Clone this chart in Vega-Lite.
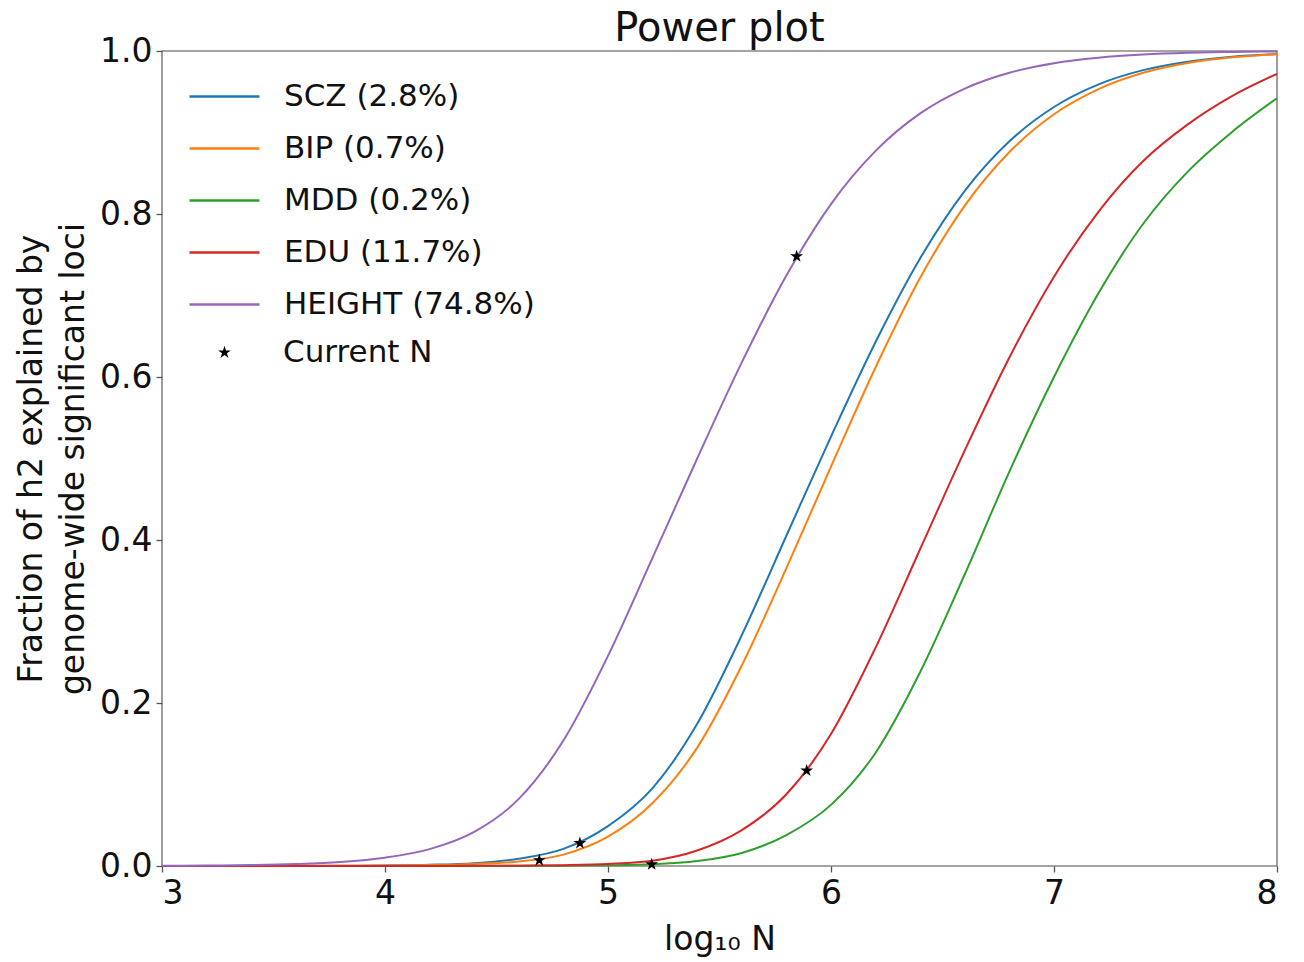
{
  "$schema": "https://vega.github.io/schema/vega-lite/v6.json",
  "width": 1115,
  "height": 815,
  "autosize": {"type": "none"},
  "padding": {"left": 162, "top": 51, "right": 27, "bottom": 96},
  "background": "white",
  "title": {"text": "Power plot", "fontSize": 40, "font": "DejaVu Sans", "fontWeight": "normal", "color": "#111111", "baseline": "bottom", "offset": -13, "dy": 41},
  "config": {
    "view": {"stroke": "#8a8582", "strokeWidth": 1.6},
    "font": "DejaVu Sans",
    "axis": {
      "grid": false, "domain": false, "tickColor": "#555555", "tickSize": 6, "tickWidth": 1.3,
      "labelFontSize": 33, "labelColor": "#111111", "labelFont": "DejaVu Sans",
      "titleFontSize": 33, "titleFontWeight": "normal", "titleColor": "#111111", "titleFont": "DejaVu Sans"
    },
    "legend": {"labelFont": "DejaVu Sans", "labelFontSize": 31, "labelColor": "#111111", "padding": 0, "labelLimit": 0}
  },
  "datasets": {
    "curves": [
      {"label": "SCZ (2.8%)", "logN": 3.0, "frac": 0},
      {"label": "SCZ (2.8%)", "logN": 3.4, "frac": 0.0001},
      {"label": "SCZ (2.8%)", "logN": 3.8, "frac": 0.0003},
      {"label": "SCZ (2.8%)", "logN": 4.0, "frac": 0.0007},
      {"label": "SCZ (2.8%)", "logN": 4.2, "frac": 0.0015},
      {"label": "SCZ (2.8%)", "logN": 4.4, "frac": 0.0035},
      {"label": "SCZ (2.8%)", "logN": 4.6, "frac": 0.009},
      {"label": "SCZ (2.8%)", "logN": 4.8, "frac": 0.021},
      {"label": "SCZ (2.8%)", "logN": 5.0, "frac": 0.049},
      {"label": "SCZ (2.8%)", "logN": 5.2, "frac": 0.0956},
      {"label": "SCZ (2.8%)", "logN": 5.4, "frac": 0.1744},
      {"label": "SCZ (2.8%)", "logN": 5.6, "frac": 0.2832},
      {"label": "SCZ (2.8%)", "logN": 5.8, "frac": 0.4052},
      {"label": "SCZ (2.8%)", "logN": 6.0, "frac": 0.5269},
      {"label": "SCZ (2.8%)", "logN": 6.2, "frac": 0.643},
      {"label": "SCZ (2.8%)", "logN": 6.4, "frac": 0.7457},
      {"label": "SCZ (2.8%)", "logN": 6.6, "frac": 0.8284},
      {"label": "SCZ (2.8%)", "logN": 6.8, "frac": 0.8892},
      {"label": "SCZ (2.8%)", "logN": 7.0, "frac": 0.9313},
      {"label": "SCZ (2.8%)", "logN": 7.2, "frac": 0.9591},
      {"label": "SCZ (2.8%)", "logN": 7.4, "frac": 0.9765},
      {"label": "SCZ (2.8%)", "logN": 7.6, "frac": 0.9869},
      {"label": "SCZ (2.8%)", "logN": 7.8, "frac": 0.9929},
      {"label": "SCZ (2.8%)", "logN": 8.0, "frac": 0.9962},

      {"label": "BIP (0.7%)", "logN": 3.0, "frac": 0},
      {"label": "BIP (0.7%)", "logN": 3.4, "frac": 0.0001},
      {"label": "BIP (0.7%)", "logN": 3.8, "frac": 0.0002},
      {"label": "BIP (0.7%)", "logN": 4.0, "frac": 0.0005},
      {"label": "BIP (0.7%)", "logN": 4.2, "frac": 0.0011},
      {"label": "BIP (0.7%)", "logN": 4.4, "frac": 0.0026},
      {"label": "BIP (0.7%)", "logN": 4.6, "frac": 0.0055},
      {"label": "BIP (0.7%)", "logN": 4.8, "frac": 0.014},
      {"label": "BIP (0.7%)", "logN": 5.0, "frac": 0.036},
      {"label": "BIP (0.7%)", "logN": 5.2, "frac": 0.0772},
      {"label": "BIP (0.7%)", "logN": 5.4, "frac": 0.1453},
      {"label": "BIP (0.7%)", "logN": 5.6, "frac": 0.246},
      {"label": "BIP (0.7%)", "logN": 5.8, "frac": 0.3654},
      {"label": "BIP (0.7%)", "logN": 6.0, "frac": 0.49},
      {"label": "BIP (0.7%)", "logN": 6.2, "frac": 0.612},
      {"label": "BIP (0.7%)", "logN": 6.4, "frac": 0.7219},
      {"label": "BIP (0.7%)", "logN": 6.6, "frac": 0.8103},
      {"label": "BIP (0.7%)", "logN": 6.8, "frac": 0.876},
      {"label": "BIP (0.7%)", "logN": 7.0, "frac": 0.9224},
      {"label": "BIP (0.7%)", "logN": 7.2, "frac": 0.9533},
      {"label": "BIP (0.7%)", "logN": 7.4, "frac": 0.9733},
      {"label": "BIP (0.7%)", "logN": 7.6, "frac": 0.9854},
      {"label": "BIP (0.7%)", "logN": 7.8, "frac": 0.9922},
      {"label": "BIP (0.7%)", "logN": 8.0, "frac": 0.996},

      {"label": "MDD (0.2%)", "logN": 3.0, "frac": 0},
      {"label": "MDD (0.2%)", "logN": 4.0, "frac": 0},
      {"label": "MDD (0.2%)", "logN": 4.6, "frac": 0.0002},
      {"label": "MDD (0.2%)", "logN": 4.8, "frac": 0.0004},
      {"label": "MDD (0.2%)", "logN": 5.0, "frac": 0.0008},
      {"label": "MDD (0.2%)", "logN": 5.2, "frac": 0.002},
      {"label": "MDD (0.2%)", "logN": 5.4, "frac": 0.006},
      {"label": "MDD (0.2%)", "logN": 5.6, "frac": 0.016},
      {"label": "MDD (0.2%)", "logN": 5.8, "frac": 0.038},
      {"label": "MDD (0.2%)", "logN": 6.0, "frac": 0.075},
      {"label": "MDD (0.2%)", "logN": 6.2, "frac": 0.139},
      {"label": "MDD (0.2%)", "logN": 6.4, "frac": 0.238},
      {"label": "MDD (0.2%)", "logN": 6.6, "frac": 0.358},
      {"label": "MDD (0.2%)", "logN": 6.8, "frac": 0.484},
      {"label": "MDD (0.2%)", "logN": 7.0, "frac": 0.6},
      {"label": "MDD (0.2%)", "logN": 7.2, "frac": 0.703},
      {"label": "MDD (0.2%)", "logN": 7.4, "frac": 0.788},
      {"label": "MDD (0.2%)", "logN": 7.6, "frac": 0.852},
      {"label": "MDD (0.2%)", "logN": 7.8, "frac": 0.901},
      {"label": "MDD (0.2%)", "logN": 8.0, "frac": 0.942},

      {"label": "EDU (11.7%)", "logN": 3.0, "frac": 0},
      {"label": "EDU (11.7%)", "logN": 4.0, "frac": 0.0001},
      {"label": "EDU (11.7%)", "logN": 4.4, "frac": 0.0002},
      {"label": "EDU (11.7%)", "logN": 4.6, "frac": 0.0004},
      {"label": "EDU (11.7%)", "logN": 4.8, "frac": 0.001},
      {"label": "EDU (11.7%)", "logN": 5.0, "frac": 0.0025},
      {"label": "EDU (11.7%)", "logN": 5.2, "frac": 0.0065},
      {"label": "EDU (11.7%)", "logN": 5.4, "frac": 0.019},
      {"label": "EDU (11.7%)", "logN": 5.6, "frac": 0.044},
      {"label": "EDU (11.7%)", "logN": 5.8, "frac": 0.088},
      {"label": "EDU (11.7%)", "logN": 6.0, "frac": 0.162},
      {"label": "EDU (11.7%)", "logN": 6.2, "frac": 0.268},
      {"label": "EDU (11.7%)", "logN": 6.4, "frac": 0.389},
      {"label": "EDU (11.7%)", "logN": 6.6, "frac": 0.51},
      {"label": "EDU (11.7%)", "logN": 6.8, "frac": 0.624},
      {"label": "EDU (11.7%)", "logN": 7.0, "frac": 0.723},
      {"label": "EDU (11.7%)", "logN": 7.2, "frac": 0.803},
      {"label": "EDU (11.7%)", "logN": 7.4, "frac": 0.865},
      {"label": "EDU (11.7%)", "logN": 7.6, "frac": 0.91},
      {"label": "EDU (11.7%)", "logN": 7.8, "frac": 0.945},
      {"label": "EDU (11.7%)", "logN": 8.0, "frac": 0.972},

      {"label": "HEIGHT (74.8%)", "logN": 3.0, "frac": 0.00025},
      {"label": "HEIGHT (74.8%)", "logN": 3.2, "frac": 0.00054},
      {"label": "HEIGHT (74.8%)", "logN": 3.4, "frac": 0.00114},
      {"label": "HEIGHT (74.8%)", "logN": 3.6, "frac": 0.0024},
      {"label": "HEIGHT (74.8%)", "logN": 3.8, "frac": 0.0049},
      {"label": "HEIGHT (74.8%)", "logN": 4.0, "frac": 0.0102},
      {"label": "HEIGHT (74.8%)", "logN": 4.2, "frac": 0.0207},
      {"label": "HEIGHT (74.8%)", "logN": 4.4, "frac": 0.0418},
      {"label": "HEIGHT (74.8%)", "logN": 4.6, "frac": 0.0823},
      {"label": "HEIGHT (74.8%)", "logN": 4.8, "frac": 0.1539},
      {"label": "HEIGHT (74.8%)", "logN": 5.0, "frac": 0.2578},
      {"label": "HEIGHT (74.8%)", "logN": 5.2, "frac": 0.3783},
      {"label": "HEIGHT (74.8%)", "logN": 5.4, "frac": 0.5},
      {"label": "HEIGHT (74.8%)", "logN": 5.6, "frac": 0.6179},
      {"label": "HEIGHT (74.8%)", "logN": 5.8, "frac": 0.7244},
      {"label": "HEIGHT (74.8%)", "logN": 6.0, "frac": 0.8122},
      {"label": "HEIGHT (74.8%)", "logN": 6.2, "frac": 0.8774},
      {"label": "HEIGHT (74.8%)", "logN": 6.4, "frac": 0.9234},
      {"label": "HEIGHT (74.8%)", "logN": 6.6, "frac": 0.9539},
      {"label": "HEIGHT (74.8%)", "logN": 6.8, "frac": 0.9733},
      {"label": "HEIGHT (74.8%)", "logN": 7.0, "frac": 0.9851},
      {"label": "HEIGHT (74.8%)", "logN": 7.2, "frac": 0.9918},
      {"label": "HEIGHT (74.8%)", "logN": 7.4, "frac": 0.9956},
      {"label": "HEIGHT (74.8%)", "logN": 7.6, "frac": 0.9977},
      {"label": "HEIGHT (74.8%)", "logN": 7.8, "frac": 0.9988},
      {"label": "HEIGHT (74.8%)", "logN": 8.0, "frac": 0.9994}
    ],
    "current": [
      {"trait": "HEIGHT", "marker": "Current N", "logN": 5.846, "frac": 0.748},
      {"trait": "SCZ", "marker": "Current N", "logN": 4.874, "frac": 0.028},
      {"trait": "BIP", "marker": "Current N", "logN": 4.692, "frac": 0.007},
      {"trait": "EDU", "marker": "Current N", "logN": 5.891, "frac": 0.117},
      {"trait": "MDD", "marker": "Current N", "logN": 5.196, "frac": 0.002}
    ]
  },
  "layer": [
    {
      "data": {"name": "curves"},
      "mark": {"type": "line", "strokeWidth": 2, "interpolate": "monotone"},
      "encoding": {
        "x": {"field": "logN", "type": "quantitative", "scale": {"domain": [3, 8], "nice": false, "zero": false},
              "axis": {"values": [3, 4, 5, 6, 7, 8], "format": "d", "title": "log₁₀ N", "labelPadding": 5, "titlePadding": 13}},
        "y": {"field": "frac", "type": "quantitative", "scale": {"domain": [0, 1], "nice": false},
              "axis": {"values": [0, 0.2, 0.4, 0.6, 0.8, 1], "format": ".1f", "title": ["Fraction of h2 explained by", "genome-wide significant loci"], "titleLineHeight": 42, "titlePadding": 9, "labelPadding": 4}},
        "color": {"field": "label", "type": "nominal",
                  "scale": {"domain": ["SCZ (2.8%)", "BIP (0.7%)", "MDD (0.2%)", "EDU (11.7%)", "HEIGHT (74.8%)"],
                            "range": ["#1f77b4", "#ff7f0e", "#2ca02c", "#d62728", "#9467bd"]},
                  "legend": {"title": null, "orient": "none", "legendX": 26, "legendY": 9, "symbolType": "stroke", "symbolSize": 4900, "symbolStrokeWidth": 2.5, "labelOffset": 23, "rowPadding": 0}}
      }
    },
    {
      "data": {"name": "current"},
      "mark": {"type": "point", "filled": true, "color": "black", "size": 180, "opacity": 1},
      "encoding": {
        "x": {"field": "logN", "type": "quantitative"},
        "y": {"field": "frac", "type": "quantitative"},
        "shape": {"field": "marker", "type": "nominal",
                  "scale": {"range": ["M0,-1L0.2245,-0.309L0.951,-0.309L0.363,0.118L0.588,0.809L0,0.382L-0.588,0.809L-0.363,0.118L-0.951,-0.309L-0.2245,-0.309Z"]},
                  "legend": {"title": null, "orient": "none", "legendX": 26, "legendY": 286, "symbolSize": 180, "symbolFillColor": "black", "symbolStrokeColor": "black", "symbolOffset": 21, "labelOffset": 43}}
      }
    }
  ]
}
